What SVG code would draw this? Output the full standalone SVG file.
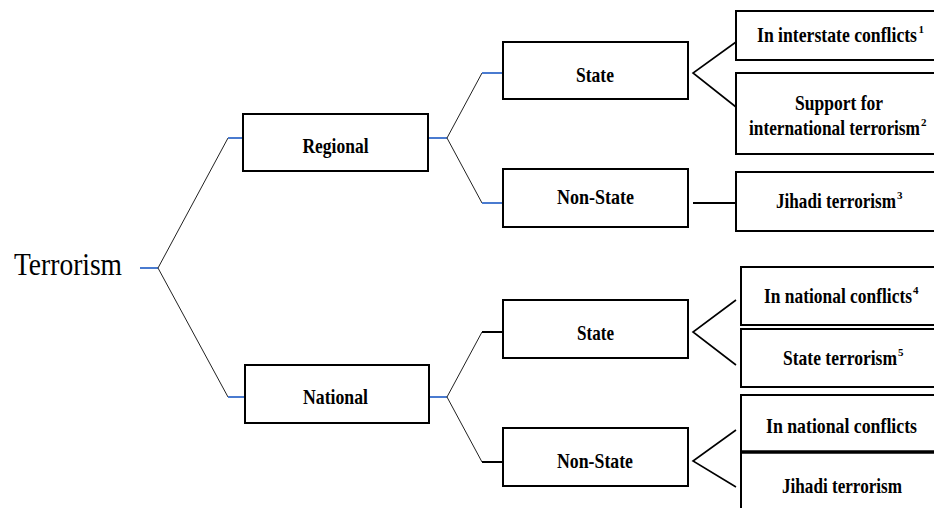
<svg xmlns="http://www.w3.org/2000/svg" width="934" height="508" viewBox="0 0 934 508">
<style>
.box{fill:#fff;stroke:#000;stroke-width:2}
.t{font-family:"Liberation Serif","Times New Roman",serif;font-weight:bold;font-size:21px;fill:#000;text-anchor:middle}
.sup{font-size:11px;text-anchor:start}
.diag{fill:none;stroke:#222;stroke-width:1}
.blue{fill:none;stroke:#4a7bd0;stroke-width:2}
.blk{fill:none;stroke:#000;stroke-width:1.6}
.stub{fill:none;stroke:#000;stroke-width:2}
</style>
<g id="connectors">
<line class="blue" x1="140" y1="268" x2="158" y2="268"/>
<polyline class="diag" points="228,138 158,268 228,397"/>
<line class="blue" x1="228" y1="138" x2="244" y2="138"/>
<line class="blue" x1="228" y1="397" x2="245" y2="397"/>
<line class="blue" x1="428" y1="138" x2="447" y2="138"/>
<polyline class="diag" points="482,73 447,138 482,203"/>
<line class="blue" x1="482" y1="73" x2="503" y2="73"/>
<line class="blue" x1="482" y1="203" x2="503" y2="203"/>
<line class="blue" x1="429" y1="397" x2="447" y2="397"/>
<polyline class="diag" points="482,332 447,397 482,462"/>
<line class="stub" x1="482" y1="332" x2="503" y2="332"/>
<line class="stub" x1="482" y1="462" x2="503" y2="462"/>
<polyline class="blk" points="736,42 693,73 736,107"/>
<line class="stub" x1="693" y1="203" x2="736" y2="203"/>
<polyline class="blk" points="736,300 693,332 736,365"/>
<polyline class="blk" points="736,430 693,461 736,487"/>
</g>
<g id="terrorism">
<text x="14" y="275" font-family="Liberation Serif,Times New Roman,serif" font-size="32" textLength="108" lengthAdjust="spacingAndGlyphs">Terrorism</text>
</g>
<g id="regional">
<rect class="box" x="243" y="114" width="185" height="57"/>
<text class="t" x="335.5" y="153" textLength="66" lengthAdjust="spacingAndGlyphs">Regional</text>
</g>
<g id="national">
<rect class="box" x="245" y="365" width="184" height="58"/>
<text class="t" x="335.5" y="404" textLength="65" lengthAdjust="spacingAndGlyphs">National</text>
</g>
<g id="reg-state">
<rect class="box" x="503" y="42" width="185" height="57"/>
<text class="t" x="595" y="82" textLength="38" lengthAdjust="spacingAndGlyphs">State</text>
</g>
<g id="reg-nonstate">
<rect class="box" x="503" y="169" width="185" height="58"/>
<text class="t" x="595.5" y="204" textLength="77" lengthAdjust="spacingAndGlyphs">Non-State</text>
</g>
<g id="nat-state">
<rect class="box" x="503" y="300" width="185" height="58"/>
<text class="t" x="595.5" y="340" textLength="37" lengthAdjust="spacingAndGlyphs">State</text>
</g>
<g id="nat-nonstate">
<rect class="box" x="503" y="428" width="185" height="58"/>
<text class="t" x="595" y="468" textLength="76" lengthAdjust="spacingAndGlyphs">Non-State</text>
</g>
<g id="leaf-interstate">
<rect class="box" x="736" y="11" width="210" height="49"/>
<text class="t" x="837" y="42" textLength="160" lengthAdjust="spacingAndGlyphs">In interstate conflicts</text>
<text class="t sup" x="918.5" y="33">1</text>
</g>
<g id="leaf-support">
<rect class="box" x="736" y="73" width="210" height="81"/>
<text class="t" x="839" y="110" textLength="88" lengthAdjust="spacingAndGlyphs">Support for</text>
<text class="t" x="834.5" y="135" textLength="171" lengthAdjust="spacingAndGlyphs">international terrorism</text>
<text class="t sup" x="921" y="126">2</text>
</g>
<g id="leaf-jihadi-reg">
<rect class="box" x="736" y="172" width="210" height="59"/>
<text class="t" x="836" y="208" textLength="120" lengthAdjust="spacingAndGlyphs">Jihadi terrorism</text>
<text class="t sup" x="897" y="199">3</text>
</g>
<g id="leaf-national4">
<rect class="box" x="741" y="267" width="205" height="58"/>
<text class="t" x="838" y="303" textLength="148" lengthAdjust="spacingAndGlyphs">In national conflicts</text>
<text class="t sup" x="913" y="294">4</text>
</g>
<g id="leaf-stateterror">
<rect class="box" x="741" y="329" width="205" height="58"/>
<text class="t" x="840" y="365" textLength="114" lengthAdjust="spacingAndGlyphs">State terrorism</text>
<text class="t sup" x="898" y="356">5</text>
</g>
<g id="leaf-national">
<rect class="box" x="741" y="395" width="205" height="57"/>
<text class="t" x="841.5" y="433" textLength="151" lengthAdjust="spacingAndGlyphs">In national conflicts</text>
</g>
<g id="leaf-jihadi-nat">
<rect class="box" x="741" y="452" width="205" height="70"/>
<line x1="741" y1="452" x2="946" y2="452" stroke="#000" stroke-width="3.5"/>
<text class="t" x="842" y="493" textLength="120" lengthAdjust="spacingAndGlyphs">Jihadi terrorism</text>
</g>
</svg>
